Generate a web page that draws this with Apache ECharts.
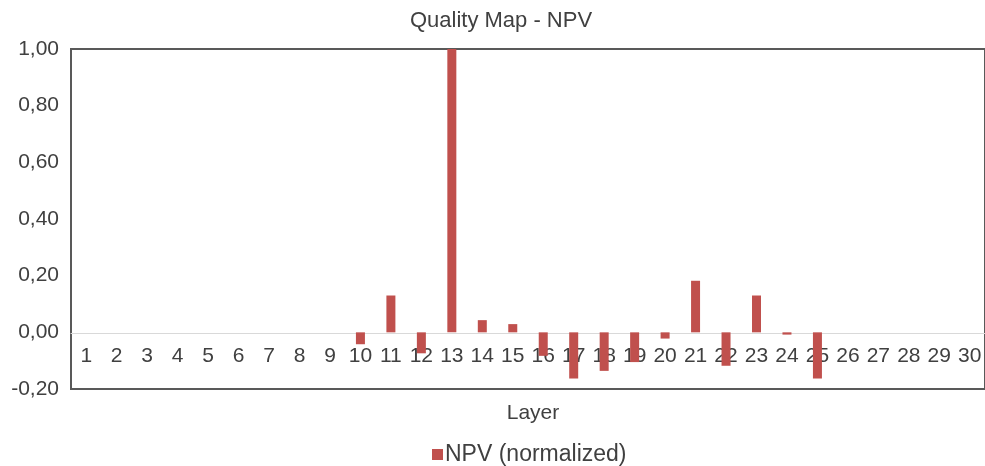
<!DOCTYPE html>
<html>
<head>
<meta charset="utf-8">
<script src="https://cdn.jsdelivr.net/npm/echarts@6/dist/echarts.min.js"></script>
<style>
html,body{margin:0;padding:0;background:#fff;}
#chart{width:985px;height:466px;}
</style>
</head>
<body>
<div id="chart"></div>
<script>
const categories = ['1','2','3','4','5','6','7','8','9','10','11','12','13','14','15','16','17','18','19','20','21','22','23','24','25','26','27','28','29','30'];
const npvValues = [0,0,0,0,0,0,0,0,0,-0.042,0.13,-0.074,1.0,0.043,0.029,-0.083,-0.163,-0.136,-0.105,-0.022,0.182,-0.118,0.13,-0.008,-0.163,0,0,0,0,0];
const seriesName = 'NPV (normalized)';
const titleText = 'Quality Map - NPV';
const xAxisTitle = 'Layer';

const FONT = '"Liberation Sans", Arial, sans-serif';
const TXT = '#404040';
const chart = echarts.init(document.getElementById('chart'));
chart.setOption({
  animation: false,
  backgroundColor: '#fff',
  title: [
    { text: titleText, left: 496, top: 5, textAlign: 'center',
      textStyle: { fontFamily: FONT, fontSize: 22, fontWeight: 'normal', color: TXT } },
    { text: xAxisTitle, left: 528, top: 398, textAlign: 'center',
      textStyle: { fontFamily: FONT, fontSize: 21, fontWeight: 'normal', color: TXT } }
  ],
  legend: {
    data: [seriesName], left: 427, top: 438, icon: 'rect', itemWidth: 11, itemHeight: 11, itemGap: 4,
    textStyle: { fontFamily: FONT, fontSize: 23, color: TXT, padding: [0,0,0,-3] }
  },
  grid: { left: 71, right: -2, top: 49, bottom: 77, show: true, borderColor: '#595959', borderWidth: 2, backgroundColor: '#fff' },
  xAxis: {
    type: 'category', data: categories,
    offset: -56,
    axisLine: { onZero: false, lineStyle: { color: '#d9d9d9', width: 1 } },
    axisTick: { show: false },
    axisLabel: { fontFamily: FONT, fontSize: 21, color: TXT, margin: 13, interval: 0 },
    splitLine: { show: false }
  },
  yAxis: {
    type: 'value', min: -0.2, max: 1, interval: 0.2,
    axisLine: { show: false }, axisTick: { show: false }, splitLine: { show: false },
    axisLabel: { fontFamily: FONT, fontSize: 21, color: TXT, margin: 12,
      formatter: v => v.toFixed(2).replace('.', ',') }
  },
  series: [{
    name: seriesName, type: 'bar', data: npvValues, barWidth: 9,
    itemStyle: { color: '#c0504d' }
  }]
});
</script>
</body>
</html>
